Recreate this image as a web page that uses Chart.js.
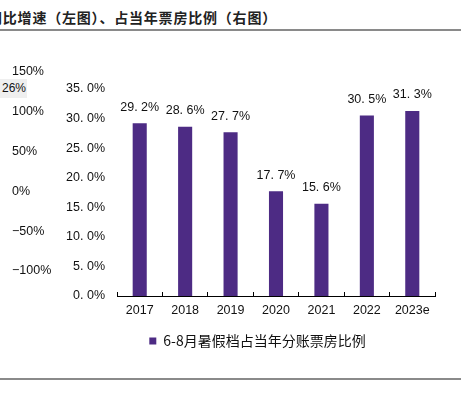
<!DOCTYPE html>
<html>
<head>
<meta charset="utf-8">
<script src="https://cdn.jsdelivr.net/npm/chart.js@4"></script>
<style>
  html, body { margin:0; padding:0; background:#fff; }
  #wrap { position:relative; width:461px; height:396px; overflow:hidden; background:#fff; }
  canvas { position:absolute; top:0; }
  #title { position:absolute; left:-12px; top:7px; font:bold 14px "Noto Sans CJK SC", sans-serif; color:#222; letter-spacing:0.8px; white-space:nowrap; }
  .rule { position:absolute; left:0; width:461px; height:2px; background:#8a8a8a; }
  #tag { position:absolute; left:0; top:79px; width:27px; height:19px; background:#efefef; font:12px "Liberation Sans", Arial, sans-serif; line-height:19px; padding-left:2px; box-sizing:border-box; color:#111; }
</style>
</head>
<body>
<div id="wrap">
  <div id="title">同比增速（左图）、占当年票房比例（右图）</div>
  <div class="rule" style="top:29px"></div>
  <div class="rule" style="top:378px"></div>
  <canvas id="left" width="250" height="396" style="left:-150px"></canvas>
  <canvas id="chart" width="461" height="396" style="left:0"></canvas>
  <div id="tag">26%</div>
</div>
<script>
const years = ['2017', '2018', '2019', '2020', '2021', '2022', '2023e'];
const summerShare = [29.2, 28.6, 27.7, 17.7, 15.6, 30.5, 31.3];
const seriesName = '6-8月暑假档占当年分账票房比例';
const leftAxisRange = [-100, 150];

const FONT = '"Liberation Sans", Arial, sans-serif';
const fmt = v => v.toFixed(1).replace('.', '. ') + '%';

// value labels above each bar
const barLabels = {
  id: 'barLabels',
  afterDatasetsDraw(chart){
    const ctx = chart.ctx;
    const meta = chart.getDatasetMeta(0);
    ctx.save();
    ctx.font = '12.5px ' + FONT;
    ctx.fillStyle = '#111';
    ctx.textAlign = 'center';
    ctx.textBaseline = 'middle';
    meta.data.forEach((bar, i)=>{
      ctx.fillText(fmt(summerShare[i]), bar.x, bar.y - 16);
    });
    ctx.restore();
  }
};

new Chart(document.getElementById('chart'), {
  type: 'bar',
  data: {
    labels: years,
    datasets: [{
      label: seriesName,
      data: summerShare,
      backgroundColor: '#4d2b84',
      barPercentage: 0.31,
      categoryPercentage: 1
    }]
  },
  options: {
    responsive: false,
    animation: false,
    layout: { padding: { left: 54, top: 89, right: 0, bottom: 38 } },
    plugins: {
      tooltip: { enabled: false },
      legend: {
        position: 'bottom',
        labels: {
          boxWidth: 7, boxHeight: 7, padding: 10,
          color: '#111',
          font: { size: 14, family: '"Noto Sans CJK SC", sans-serif' }
        }
      }
    },
    scales: {
      x: {
        grid: { display: true, drawOnChartArea: false, drawTicks: true, tickLength: -4, color: '#000', tickColor: '#000' },
        border: { display: true, color: '#000', width: 1 },
        ticks: { color: '#111', padding: 11, font: { size: 12.5, family: FONT } },
        afterFit(scale){ scale.height = 28; }
      },
      y: {
        min: 0, max: 35,
        grid: { display: false, drawTicks: false },
        border: { display: false },
        ticks: { stepSize: 5, padding: 12, color: '#111', font: { size: 12.5, family: FONT }, callback: v => fmt(v) },
        afterFit(scale){ scale.width = 63; }
      },
      // empty spacer on the right, keeps the plot clear of the edge
      yPad: {
        position: 'right',
        grid: { display: false, drawTicks: false },
        border: { display: false },
        ticks: { display: false },
        afterFit(scale){ scale.width = 26; }
      }
    }
  },
  plugins: [barLabels]
});

// right-hand axis of the neighbouring (cropped) chart
new Chart(document.getElementById('left'), {
  type: 'bar',
  data: { labels: [''], datasets: [{ data: [], backgroundColor: 'transparent' }] },
  options: {
    responsive: false,
    animation: false,
    layout: { padding: { left: 0, top: 72, right: 0, bottom: 125 } },
    plugins: { legend: { display: false }, tooltip: { enabled: false } },
    scales: {
      x: { display: false },
      y: {
        position: 'right',
        min: leftAxisRange[0], max: leftAxisRange[1],
        grid: { display: false, drawTicks: false },
        border: { display: false },
        ticks: { stepSize: 50, padding: 0, color: '#111', font: { size: 12.5, family: FONT },
          callback: v => (v < 0 ? '−' + Math.abs(v) : v) + '%' },
        afterFit(scale){ scale.width = 88; }
      }
    }
  }
});
</script>
</body>
</html>
